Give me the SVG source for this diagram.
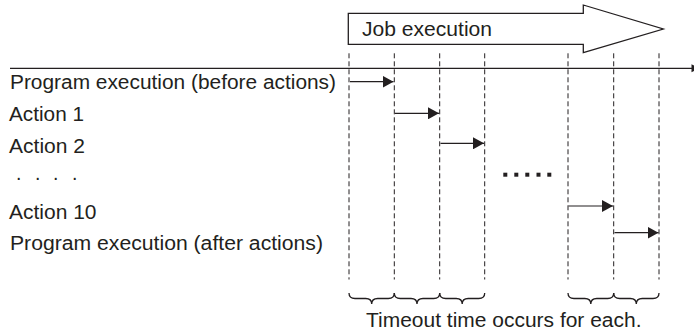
<svg xmlns="http://www.w3.org/2000/svg" width="694" height="335" viewBox="0 0 694 335">
<style>
text{font-family:"Liberation Sans",Arial,sans-serif;font-size:19.5px;fill:#231f20}
.ln{stroke:#231f20;stroke-width:1.2;fill:none}
.dash{stroke:#231f20;stroke-width:1;stroke-dasharray:5 3;fill:none}
.br{stroke:#231f20;stroke-width:1.3;fill:none}
</style>
<defs>
<marker id="ah" viewBox="0 0 11 12" refX="11" refY="6" markerWidth="11" markerHeight="12" markerUnits="userSpaceOnUse" orient="auto">
<path d="M0,0 L11,6 L0,12 Z" fill="#231f20"/>
</marker>
</defs>
<rect width="694" height="335" fill="#fff"/>
<g id="job-execution">
<polygon points="348.3,13.3 583.3,13.3 583.3,5 663.3,29 583.3,52.7 583.3,44.3 348.3,44.3" fill="#fff" stroke="#231f20" stroke-width="1.3"/>
<text x="362" y="36" textLength="130" lengthAdjust="spacingAndGlyphs">Job execution</text>
</g>
<g id="timeline">
<line class="ln" x1="10" y1="68.3" x2="692" y2="68.3" stroke-width="1.4"/>
<polygon points="691.5,64.3 691.5,72.3 700,68.3" fill="#231f20"/>
</g>
<g id="labels">
<text x="10" y="89.3" textLength="326" lengthAdjust="spacingAndGlyphs">Program execution (before actions)</text>
<text x="9" y="120.5" textLength="75" lengthAdjust="spacingAndGlyphs">Action 1</text>
<text x="9" y="153" textLength="76" lengthAdjust="spacingAndGlyphs">Action 2</text>
<text x="16" y="180" xml:space="preserve">.</text>
<text x="35" y="180">.</text>
<text x="53" y="180">.</text>
<text x="72" y="180">.</text>
<text x="9" y="218.5" textLength="87.5" lengthAdjust="spacingAndGlyphs">Action 10</text>
<text x="10" y="250" textLength="313" lengthAdjust="spacingAndGlyphs">Program execution (after actions)</text>
</g>
<g id="connectors">
<line class="dash" x1="349" y1="53.3" x2="349" y2="279.5"/>
<line class="dash" x1="394.3" y1="53.3" x2="394.3" y2="279.5"/>
<line class="dash" x1="439.7" y1="53.3" x2="439.7" y2="279.5"/>
<line class="dash" x1="484.7" y1="53.3" x2="484.7" y2="279.5"/>
<line class="dash" x1="568" y1="53.3" x2="568" y2="279.5"/>
<line class="dash" x1="613.7" y1="53.3" x2="613.7" y2="279.5"/>
<line class="dash" x1="659" y1="53.3" x2="659" y2="279.5"/>
<line class="ln" x1="350" y1="81.7" x2="393.5" y2="81.7" marker-end="url(#ah)"/>
<line class="ln" x1="395" y1="113.3" x2="439" y2="113.3" marker-end="url(#ah)"/>
<line class="ln" x1="440.5" y1="143.3" x2="484" y2="143.3" marker-end="url(#ah)"/>
<line class="ln" x1="568.5" y1="206" x2="613" y2="206" marker-end="url(#ah)"/>
<line class="ln" x1="614.5" y1="232.7" x2="658.5" y2="232.7" marker-end="url(#ah)"/>
</g>
<g id="ellipsis" fill="#231f20">
<rect x="503.3" y="172.7" width="4" height="4"/>
<rect x="514.3" y="172.7" width="4" height="4"/>
<rect x="525.3" y="172.7" width="4" height="4"/>
<rect x="536.5" y="172.7" width="4" height="4"/>
<rect x="547.3" y="172.7" width="4" height="4"/>
</g>
<g id="braces">
<path class="br" d="M349,293 Q349,298.5 355,298.5 L365.7,298.5 Q371.7,298.5 371.7,304 Q371.7,298.5 377.7,298.5 L388.3,298.5 Q394.3,298.5 394.3,293"/>
<path class="br" d="M394.3,293 Q394.3,298.5 400.3,298.5 L411,298.5 Q417,298.5 417,304 Q417,298.5 423,298.5 L433.7,298.5 Q439.7,298.5 439.7,293"/>
<path class="br" d="M439.7,293 Q439.7,298.5 445.7,298.5 L456.2,298.5 Q462.2,298.5 462.2,304 Q462.2,298.5 468.2,298.5 L478.7,298.5 Q484.7,298.5 484.7,293"/>
<path class="br" d="M568,293 Q568,298.5 574,298.5 L584.8,298.5 Q590.8,298.5 590.8,304 Q590.8,298.5 596.8,298.5 L607.7,298.5 Q613.7,298.5 613.7,293"/>
<path class="br" d="M613.7,293 Q613.7,298.5 619.7,298.5 L630.3,298.5 Q636.3,298.5 636.3,304 Q636.3,298.5 642.3,298.5 L653,298.5 Q659,298.5 659,293"/>
<text x="366" y="326.7" textLength="275.5" lengthAdjust="spacingAndGlyphs">Timeout time occurs for each.</text>
</g>
</svg>
